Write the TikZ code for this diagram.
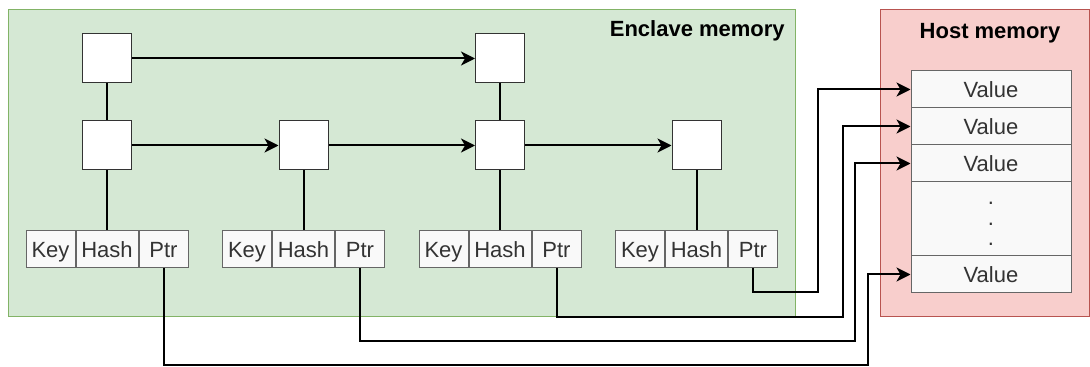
\documentclass[tikz,border=0pt]{standalone}
\usepackage{fontspec}
\setmainfont{Liberation Sans}
\usetikzlibrary{arrows.meta}
\definecolor{enclfill}{HTML}{D5E8D4}
\definecolor{enclline}{HTML}{82B366}
\definecolor{hostfill}{HTML}{F8CECC}
\definecolor{hostline}{HTML}{B85450}
\definecolor{cellfill}{HTML}{F9F9F9}
\definecolor{cellline}{HTML}{666666}
\definecolor{celltext}{HTML}{333333}
\definecolor{sqline}{HTML}{333333}
\tikzset{
  region/.style={line width=0.75pt, inner sep=0pt},
  title/.style={font=\fontsize{16.5}{19}\selectfont\bfseries, inner sep=0pt},
  sq/.style={draw=sqline, fill=white, line width=0.75pt, minimum size=36.75pt, inner sep=0pt},
  cellbase/.style={draw=cellline, fill=cellfill, line width=0.75pt, minimum height=27.75pt,
    inner sep=0pt, text=celltext, font=\fontsize{16.5}{18}\selectfont},
  cell/.style={cellbase, text height=11.9pt, text depth=0.3pt},
  link/.style={line width=1.5pt, draw=black},
  arr/.style={link, -{Stealth[length=10.5pt, width=10.5pt, inset=3pt]}},
}
\begin{document}
\begin{tikzpicture}[x=0.75pt, y=-0.75pt]
\useasboundingbox (0,0) rectangle (1090,367);

% memory regions
\node[region, draw=enclline, fill=enclfill, minimum width=590.25pt, minimum height=230.25pt]
  (enclave) at (401.5,163.5) {};
\node[region, draw=hostline, fill=hostfill, minimum width=156.75pt, minimum height=230.25pt]
  (host) at (984.5,163.5) {};
\node[title, anchor=base east] (enctitle) at (785,37) {Enclave memory};
\node[title, anchor=base] (hosttitle) at (990,39) {Host memory};

% skip-list nodes
\node[sq] (a1) at (107,58.5) {};
\node[sq] (a3) at (500,58.5) {};
\node[sq] (b1) at (107,145.5) {};
\node[sq] (b2) at (303.5,145.5) {};
\node[sq] (b3) at (500,145.5) {};
\node[sq] (b4) at (696.5,145.5) {};

% entries: key, hash, pointer
\foreach \i/\c in {1/107, 2/303.5, 3/500, 4/696.5}{
  \node[cell, minimum width=46.5pt] (h\i) at (\c,249.5) {Hash};
  \node[cell, minimum width=36.75pt, anchor=east] (k\i) at (h\i.west) {Key};
  \node[cell, minimum width=36.75pt, anchor=west] (p\i) at (h\i.east) {Ptr};
}

% value slots in host memory
\node[cell, minimum width=120pt] (v1) at (991,89.5) {Value};
\node[cell, minimum width=120pt] (v2) at (991,126.5) {Value};
\node[cell, minimum width=120pt] (v3) at (991,163.5) {Value};
\node[cellbase, minimum width=120pt, minimum height=55.5pt] (vd) at (991,219) {};
\node[align=center, inner sep=0pt, text=celltext, font=\fontsize{16.5}{15.2}\selectfont]
  (vdots) at (991,224) {.\\.\\.};
\node[cell, minimum width=120pt] (v4) at (991,274.5) {Value};

% links between levels
\draw[arr] (a1) -- (a3);
\draw[link] (a1) -- (b1);
\draw[link] (a3) -- (b3);
\draw[arr] (b1) -- (b2);
\draw[arr] (b2) -- (b3);
\draw[arr] (b3) -- (b4);
\foreach \i in {1,2,3,4}{
  \draw[link] (b\i) -- (h\i);
}

% pointers out of the enclave
\coordinate (t4) at (818,292);
\coordinate (t3) at (843,317);
\coordinate (t2) at (855,341);
\coordinate (t1) at (868,365);
\draw[arr] (p4.south) |- (t4) |- (v1.west);
\draw[arr] (p3.south) |- (t3) |- (v2.west);
\draw[arr] (p2.south) |- (t2) |- (v3.west);
\draw[arr] (p1.south) |- (t1) |- (v4.west);
\end{tikzpicture}
\end{document}
